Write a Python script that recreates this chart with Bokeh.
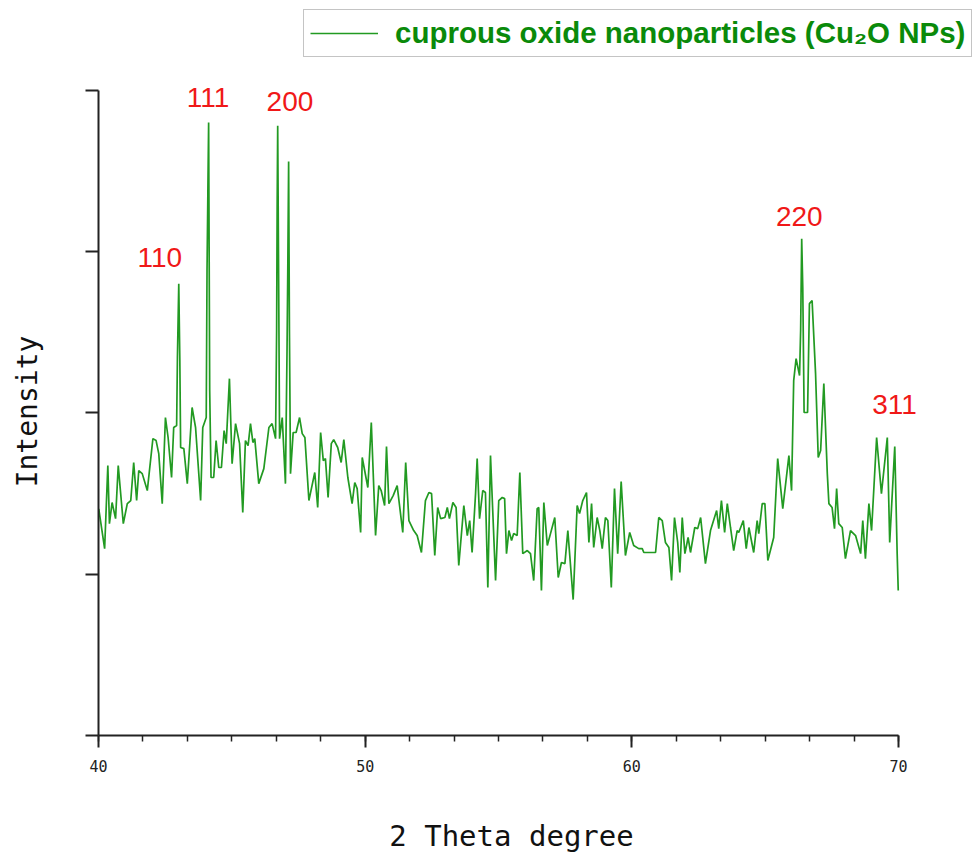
import numpy as np
from bokeh.plotting import figure
from bokeh.models import (ColumnDataSource, FixedTicker, Legend, LegendItem, Range1d,
                          LinearAxis)
from bokeh.core.properties import value
from bokeh.embed import file_html
from bokeh.resources import INLINE

# ---------------- data ----------------
two_theta = [
    40.01, 40.23, 40.35, 40.41, 40.51, 40.64, 40.74, 40.93, 41.08, 41.21,
    41.32, 41.43, 41.51, 41.64, 41.83, 42.04, 42.16, 42.26, 42.39, 42.51,
    42.61, 42.74, 42.82, 42.93, 42.96, 43.01, 43.05, 43.08, 43.20, 43.33,
    43.51, 43.64, 43.83, 43.91, 44.04, 44.07, 44.10, 44.13, 44.17, 44.22,
    44.32, 44.41, 44.51, 44.61, 44.71, 44.79, 44.91, 45.01, 45.14, 45.29,
    45.41, 45.51, 45.61, 45.70, 45.79, 45.86, 46.01, 46.20, 46.39, 46.51,
    46.64, 46.68, 46.70, 46.72, 46.76, 46.79, 46.89, 47.01, 47.07, 47.10,
    47.13, 47.16, 47.20, 47.30, 47.41, 47.54, 47.64, 47.74, 47.89, 48.11,
    48.22, 48.33, 48.43, 48.51, 48.61, 48.73, 48.82, 48.97, 49.10, 49.20,
    49.35, 49.51, 49.61, 49.70, 49.83, 49.89, 50.10, 50.23, 50.39, 50.51,
    50.60, 50.73, 50.80, 50.89, 51.05, 51.20, 51.41, 51.52, 51.64, 51.82,
    51.95, 52.11, 52.26, 52.39, 52.49, 52.61, 52.72, 52.83, 52.99, 53.08,
    53.16, 53.29, 53.41, 53.51, 53.70, 53.83, 53.92, 54.01, 54.14, 54.20,
    54.29, 54.41, 54.51, 54.60, 54.70, 54.89, 55.01, 55.14, 55.23, 55.30,
    55.39, 55.49, 55.57, 55.70, 55.80, 55.91, 56.08, 56.20, 56.32, 56.45,
    56.51, 56.61, 56.70, 56.83, 56.95, 57.11, 57.24, 57.36, 57.49, 57.60,
    57.80, 57.95, 58.04, 58.16, 58.30, 58.39, 58.49, 58.57, 58.70, 58.80,
    58.89, 59.01, 59.10, 59.23, 59.35, 59.47, 59.60, 59.76, 59.92, 60.07,
    60.26, 60.39, 60.45, 60.89, 61.01, 61.14, 61.26, 61.39, 61.49, 61.60,
    61.72, 61.80, 61.89, 61.99, 62.11, 62.20, 62.36, 62.47, 62.58, 62.76,
    62.95, 63.18, 63.26, 63.36, 63.48, 63.58, 63.70, 63.82, 63.95, 64.01,
    64.18, 64.29, 64.39, 64.57, 64.70, 64.76, 64.89, 64.99, 65.10, 65.32,
    65.47, 65.66, 65.89, 65.99, 66.07, 66.16, 66.29, 66.33, 66.37, 66.41,
    66.46, 66.59, 66.66, 66.76, 66.89, 66.99, 67.08, 67.20, 67.33, 67.39,
    67.51, 67.60, 67.68, 67.76, 67.89, 68.01, 68.20, 68.39, 68.58, 68.66,
    68.76, 68.89, 68.99, 69.18, 69.36, 69.58, 69.67, 69.86, 69.95, 69.99,
]

intensity = [
    140.6, 115.9, 167.4, 131.4, 144.5, 134.5, 167.4, 131.4, 143.8, 145.7,
    169.3, 145.7, 164.3, 162.4, 151.9, 184.1, 182.9, 174.8, 143.8, 197.2,
    184.8, 160.0, 191.0, 192.2, 234.4, 280.2, 232.5, 178.6, 177.9, 156.2,
    203.4, 191.0, 145.7, 191.0, 197.2, 288.3, 334.8, 380.1, 213.9, 160.0,
    160.0, 182.9, 166.2, 166.2, 189.1, 181.0, 221.3, 168.6, 193.4, 181.0,
    138.3, 182.9, 179.8, 193.4, 181.7, 184.1, 156.2, 165.5, 191.0, 193.4,
    184.1, 251.1, 329.8, 378.2, 269.7, 184.1, 197.2, 156.2, 238.7, 292.6,
    355.9, 251.1, 162.4, 187.9, 187.9, 197.2, 187.2, 184.8, 145.7, 163.1,
    141.4, 187.9, 170.5, 171.7, 147.6, 181.0, 183.5, 178.6, 169.3, 183.5,
    160.0, 143.8, 156.9, 153.1, 125.9, 172.4, 153.8, 194.1, 124.0, 155.0,
    151.9, 142.6, 179.2, 143.8, 148.8, 155.0, 125.9, 169.3, 133.3, 127.1,
    124.0, 113.5, 145.7, 150.7, 150.0, 111.6, 141.4, 134.5, 135.2, 141.4,
    134.5, 144.5, 141.4, 105.4, 142.6, 124.0, 133.3, 113.5, 150.0, 171.7,
    134.5, 151.9, 150.7, 91.8, 173.6, 96.1, 145.7, 147.6, 146.9, 112.8,
    127.1, 120.9, 125.2, 124.0, 163.1, 112.8, 114.7, 112.8, 96.1, 140.7,
    141.4, 89.9, 144.5, 117.8, 125.2, 135.2, 98.0, 107.3, 106.6, 127.1,
    84.3, 142.6, 137.6, 145.7, 150.7, 119.7, 143.8, 116.6, 135.2, 127.1,
    115.9, 135.2, 133.3, 91.8, 153.1, 112.8, 157.5, 111.6, 125.9, 117.8,
    115.9, 115.9, 113.5, 113.5, 135.2, 133.3, 119.7, 116.6, 96.1, 135.2,
    119.7, 101.1, 135.2, 112.8, 122.8, 113.5, 129.0, 128.3, 135.2, 106.6,
    127.1, 139.5, 128.3, 145.7, 125.9, 143.8, 129.0, 114.7, 127.1, 125.9,
    133.3, 115.9, 129.0, 113.5, 133.3, 125.2, 143.8, 143.8, 108.5, 122.8,
    171.7, 140.7, 173.6, 151.9, 220.1, 233.7, 223.2, 251.1, 308.1, 277.8,
    200.3, 200.3, 267.8, 269.7, 224.4, 172.4, 176.7, 218.2, 162.4, 143.8,
    141.4, 128.3, 153.1, 131.4, 129.0, 109.7, 127.1, 124.0, 112.8, 133.3,
    109.7, 143.8, 127.1, 184.8, 150.0, 184.8, 119.7, 179.2, 112.8, 89.9,
]

peak_labels = ["110", "111", "200", "220", "311"]
peak_label_x = [42.30, 44.11, 47.18, 66.28, 69.85]
peak_label_y = [296.6, 395.7, 393.2, 322.1, 205.2]

x_ticks = [40, 50, 60, 70]
y_ticks = [0, 100, 200, 300, 400]
series_name = "cuprous oxide nanoparticles (Cu\u2082O NPs)"

line_color = "#229a22"
axis_color = "#222222"

# The frame is larger than the axes (axes are pinned at 2θ=40 and I=0 with
# fixed_location) so the legend and peak labels above/right are not clipped.
p = figure(
    frame_width=922, frame_height=814,
    min_border_left=50, min_border_right=0,
    min_border_top=4, min_border_bottom=30,
    x_range=Range1d(38.2, 72.775), y_range=Range1d(-51.47, 453.33),
    output_backend="svg", toolbar_location=None,
    background_fill_color="white", border_fill_color="white",
)
p.outline_line_color = None
p.xgrid.visible = False
p.ygrid.visible = False

src = ColumnDataSource(dict(x=two_theta, y=intensity))
r = p.line("x", "y", source=src, line_color=line_color, line_width=1.7)

lab_src = ColumnDataSource(dict(x=peak_label_x, y=peak_label_y, t=peak_labels))
p.text("x", "y", text="t", source=lab_src, text_color="#f01818",
       text_font=value("Liberation Sans"), text_font_size=value("28px"),
       text_align="center", text_baseline="middle")

# visible x axis, pinned at intensity 0
minor = [round(40 + i * 10 / 6, 4) for i in range(19)]
xa = p.xaxis[0]
xa.fixed_location = 0
xa.bounds = (40, 70)
xa.ticker = FixedTicker(ticks=x_ticks, minor_ticks=minor)
xa.axis_line_width = 2
xa.axis_line_color = axis_color
xa.major_tick_line_width = 2
xa.minor_tick_line_width = 1.5
xa.major_tick_line_color = axis_color
xa.minor_tick_line_color = axis_color
xa.major_tick_in = 0
xa.major_tick_out = 12
xa.minor_tick_in = 0
xa.minor_tick_out = 6
xa.major_label_standoff = 12
xa.major_label_text_font = "DejaVu Sans Mono"
xa.major_label_text_font_size = "15px"
xa.major_label_text_color = axis_color

# visible y axis, pinned at 2θ = 40
ya = p.yaxis[0]
ya.fixed_location = 40
ya.bounds = (0, 400)
ya.ticker = FixedTicker(ticks=y_ticks, minor_ticks=[])
ya.axis_line_width = 2
ya.axis_line_color = axis_color
ya.major_tick_line_width = 2
ya.major_tick_line_color = axis_color
ya.major_tick_in = 0
ya.major_tick_out = 13
ya.minor_tick_line_color = None
ya.major_label_text_color = None
ya.major_label_text_font_size = "1px"

# axis titles (label-only axes in the border panels)
xlab = LinearAxis(axis_label="2 Theta degree", ticker=FixedTicker(ticks=[]),
                  axis_line_color=None, major_tick_line_color=None,
                  minor_tick_line_color=None, major_label_text_color=None)
xlab.axis_label_text_font = "DejaVu Sans Mono"
xlab.axis_label_text_font_size = "29px"
xlab.axis_label_text_font_style = "normal"
xlab.axis_label_text_color = "#111111"
xlab.axis_label_standoff = 0
p.add_layout(xlab, "below")

ylab = LinearAxis(axis_label="Intensity", ticker=FixedTicker(ticks=[]),
                  axis_line_color=None, major_tick_line_color=None,
                  minor_tick_line_color=None, major_label_text_color=None)
ylab.axis_label_text_font = "DejaVu Sans Mono"
ylab.axis_label_text_font_size = "28px"
ylab.axis_label_text_font_style = "normal"
ylab.axis_label_text_color = "#111111"
ylab.axis_label_standoff = 7
p.add_layout(ylab, "left")

# legend at the top (inside the frame)
legend = Legend(
    items=[LegendItem(label=series_name, renderers=[r])],
    location=(253, 761),
    glyph_width=68, glyph_height=20,
    label_standoff=17,
    label_text_font="Liberation Sans",
    label_text_font_size="29.5px",
    label_text_font_style="bold",
    label_text_color="#0a8a0a",
    border_line_color="#8a8a8a", border_line_width=1.5,
    background_fill_color="white", background_fill_alpha=1.0,
    padding=6, margin=0, spacing=0,
)
p.add_layout(legend)

open("out.html", "w").write(file_html(p, INLINE))
